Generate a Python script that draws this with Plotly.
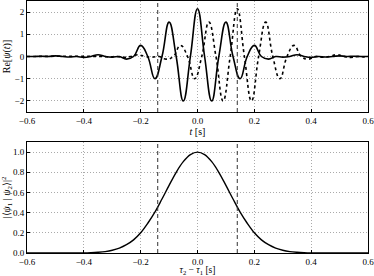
import plotly.graph_objects as go
from plotly.subplots import make_subplots

# Re[psi1(t)] (solid), read at extrema / zero crossings
t1 = [-0.6, -0.575, -0.55, -0.525, -0.5, -0.475, -0.45, -0.425, -0.4, -0.375,
      -0.35, -0.325, -0.3, -0.275, -0.25, -0.225, -0.2, -0.175, -0.15, -0.125,
      -0.1, -0.075, -0.05, -0.025, 0.0, 0.025, 0.05, 0.075, 0.1, 0.125,
      0.15, 0.175, 0.2, 0.225, 0.25, 0.275, 0.3, 0.325, 0.35, 0.375,
      0.4, 0.425, 0.45, 0.475, 0.5, 0.525, 0.55, 0.575, 0.6]
psi1 = [0.0, 0.0, 0.01, 0.0, 0.03, 0.0, -0.02, 0.0, -0.04, 0.0,
        0.08, 0.0, -0.03, 0.0, -0.12, 0.0, 0.5, 0.0, -1.0, 0.0,
        1.55, 0.0, -2.0, 0.0, 2.15, 0.0, -2.0, 0.0, 1.55, 0.0,
        -1.0, 0.0, 0.5, 0.0, -0.12, 0.0, -0.03, 0.0, 0.08, 0.0,
        -0.04, 0.0, -0.02, 0.0, 0.03, 0.0, 0.01, 0.0, 0.0]

# Re[psi2(t)] (dotted), same packet centred at ~0.14 s
t2 = [-0.6, -0.335, -0.31, -0.285, -0.26, -0.235, -0.21, -0.185, -0.16, -0.135,
      -0.11, -0.085, -0.06, -0.035, -0.01, 0.015, 0.04, 0.065, 0.09, 0.115,
      0.14, 0.165, 0.19, 0.215, 0.24, 0.265, 0.29, 0.315, 0.34, 0.365,
      0.39, 0.415, 0.44, 0.465, 0.49, 0.515, 0.54, 0.565, 0.59, 0.6]
psi2 = [0.0, 0.0, -0.02, 0.0, -0.04, 0.0, 0.08, 0.0, -0.03, 0.0,
        -0.12, 0.0, 0.5, 0.0, -1.0, 0.0, 1.55, 0.0, -2.0, 0.0,
        2.15, 0.0, -2.0, 0.0, 1.55, 0.0, -1.0, 0.0, 0.5, 0.0,
        -0.12, 0.0, -0.03, 0.0, 0.08, 0.0, -0.04, 0.0, -0.02, 0.0]

# overlap |<psi1|psi2>|^2 vs tau2 - tau1
dtau = [-0.6, -0.5, -0.45, -0.4, -0.375, -0.35, -0.325, -0.3, -0.275, -0.25,
        -0.225, -0.2, -0.175, -0.15, -0.125, -0.1, -0.075, -0.05, -0.025, 0.0,
        0.025, 0.05, 0.075, 0.1, 0.125, 0.15, 0.175, 0.2, 0.225, 0.25,
        0.275, 0.3, 0.325, 0.35, 0.375, 0.4, 0.45, 0.5, 0.6]
overlap = [0.0, 0.0, 0.0, 0.001, 0.003, 0.007, 0.014, 0.027, 0.048, 0.082,
           0.13, 0.2, 0.295, 0.405, 0.535, 0.67, 0.8, 0.905, 0.975, 1.0,
           0.975, 0.905, 0.8, 0.67, 0.535, 0.405, 0.295, 0.2, 0.13, 0.082,
           0.048, 0.027, 0.014, 0.007, 0.003, 0.001, 0.0, 0.0, 0.0]

markers = [-0.14, 0.14]
xticks = [-0.6, -0.4, -0.2, 0.0, 0.2, 0.4, 0.6]

FONT = "Liberation Serif"

fig = make_subplots(rows=2, cols=1, vertical_spacing=0.119)

fig.add_trace(go.Scatter(x=t1, y=psi1, mode="lines", line=dict(color="black", width=1.6, shape="spline", smoothing=1.3)), row=1, col=1)
fig.add_trace(go.Scatter(x=t2, y=psi2, mode="lines", line=dict(color="black", width=1.6, dash="dot", shape="spline", smoothing=1.3)), row=1, col=1)
fig.add_trace(go.Scatter(x=dtau, y=overlap, mode="lines", line=dict(color="black", width=1.4, shape="spline")), row=2, col=1)

for m in markers:
    fig.add_trace(go.Scatter(x=[m, m], y=[-2.5, 2.5], mode="lines", line=dict(color="#333", width=1, dash="4px,3px")), row=1, col=1)
    fig.add_trace(go.Scatter(x=[m, m], y=[0, 1.1], mode="lines", line=dict(color="#333", width=1, dash="4px,3px")), row=2, col=1)

axis_common = dict(showline=True, linecolor="black", linewidth=1, mirror=True,
                   showgrid=True, gridcolor="#aaa", griddash="1px,2px", gridwidth=1,
                   zeroline=False, ticks="inside", ticklen=3, tickcolor="black",
                   automargin=False, ticklabeloverflow="allow",
                   tickfont=dict(family=FONT, size=9, color="black"))
title_font = dict(family=FONT, size=10, color="black")

fig.update_xaxes(range=[-0.6, 0.6], tickvals=xticks, tickformat=".1f", **axis_common)
fig.update_yaxes(**axis_common)
fig.update_yaxes(range=[-2.5, 2.5], tickvals=[-2, -1, 0, 1, 2], row=1, col=1)
fig.update_yaxes(range=[0, 1.1], tickvals=[0, 0.2, 0.4, 0.6, 0.8, 1.0], tickformat=".1f", row=2, col=1)

fig.update_xaxes(title=dict(text="<i>t</i> [s]", standoff=0, font=title_font), row=1, col=1)
fig.update_xaxes(title=dict(text="<i>τ</i><sub>2</sub> − <i>τ</i><sub>1</sub> [s]", standoff=6,
                            font=dict(family=FONT, size=9.5, color="black")), row=2, col=1)
fig.update_yaxes(title=dict(text="Re[<i>ψ</i>(<i>t</i>)]", standoff=2, font=title_font), row=1, col=1)
fig.update_yaxes(title=dict(text="|⟨<i>ψ</i><sub>1</sub> | <i>ψ</i><sub>2</sub>⟩|<sup>2</sup>", standoff=2, font=title_font), row=2, col=1)

fig.update_layout(width=374, height=276, showlegend=False,
                  margin=dict(l=27, r=6, t=1, b=23),
                  plot_bgcolor="white", paper_bgcolor="white",
                  font=dict(family=FONT, size=9, color="black"))
fig.update_layout(yaxis=dict(domain=[0.5595, 1.0]), yaxis2=dict(domain=[0.0, 0.4405]))

# drop the browser's default body margin so the figure sits at the top-left corner
fig.write_html("out.html", config={"displayModeBar": False},
               post_script="document.body.style.margin='0';")
